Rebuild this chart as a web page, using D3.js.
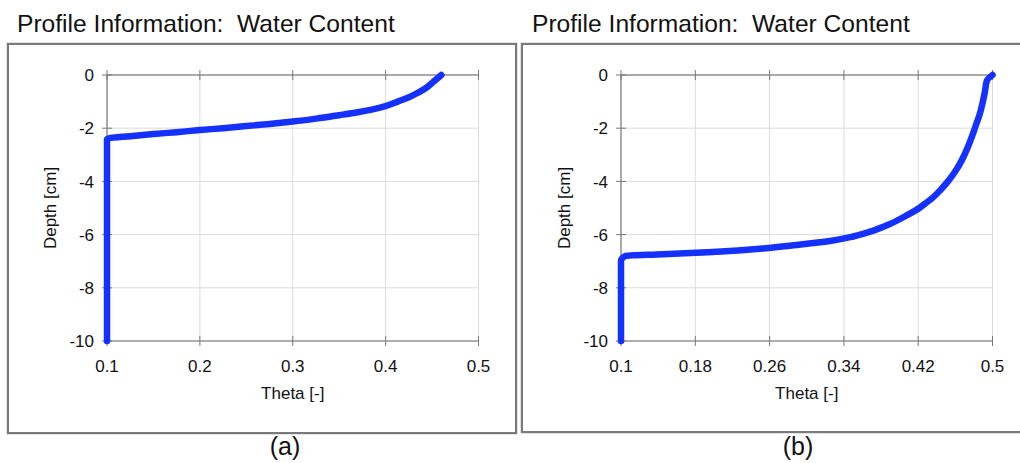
<!DOCTYPE html>
<html><head><meta charset="utf-8">
<script src="https://cdn.jsdelivr.net/npm/d3@7"></script>
<style>body{margin:0;background:#fff;} svg{display:block;font-family:"Liberation Sans",Arial,sans-serif;}</style>
</head><body>
<svg id="c" width="1020" height="463"></svg>
<script>
const titleText = "Profile Information:  Water Content";
const yLabel = "Depth [cm]";
const xLabel = "Theta [-]";
const captions = ["(a)", "(b)"];
const yTicks = [0, -2, -4, -6, -8, -10];
const xTicksA = [0.1, 0.2, 0.3, 0.4, 0.5];
const xTicksB = [0.1, 0.18, 0.26, 0.34, 0.42, 0.5];
const thetaA = [0.460,0.455,0.450,0.443,0.435,0.425,0.413,0.400,0.385,0.370,0.350,0.325,0.300,0.275,0.250,0.225,0.200,0.175,0.150,0.125,0.102,0.100,0.100];
const depthA = [0,-0.15,-0.30,-0.50,-0.66,-0.84,-1.00,-1.17,-1.30,-1.40,-1.51,-1.64,-1.75,-1.84,-1.92,-2.00,-2.07,-2.15,-2.22,-2.30,-2.38,-2.42,-10];
const thetaB = [0.500,0.494,0.492,0.489,0.486,0.482,0.478,0.473,0.467,0.460,0.452,0.444,0.436,0.428,0.422,0.407,0.389,0.371,0.350,0.325,0.289,0.253,0.199,0.145,0.105,0.100,0.100];
const depthB = [0,-0.21,-0.59,-1.10,-1.50,-1.90,-2.30,-2.75,-3.20,-3.62,-4.00,-4.32,-4.60,-4.82,-4.98,-5.29,-5.61,-5.86,-6.07,-6.24,-6.39,-6.52,-6.65,-6.74,-6.80,-6.99,-10];

const svg = d3.select("#c");

const panels = [
  {frame:[8,44,508,389], title:[17,32], plot:[107,478.5,75,341], xd:[0.1,0.5], xt:xTicksA, th:thetaA, dp:depthA, cap:[285,455]},
  {frame:[522,44,510,388], title:[532,32], plot:[621,992.5,75,341], xd:[0.1,0.5], xt:xTicksB, th:thetaB, dp:depthB, cap:[798,455]}
];

panels.forEach((p,i)=>{
  const [fx,fy,fw,fh] = p.frame;
  svg.append("rect").attr("x",fx-1).attr("y",fy-1).attr("width",fw+2).attr("height",fh+2)
     .attr("fill","none").attr("stroke","#c8c8c8").attr("stroke-width",1);
  svg.append("rect").attr("x",fx).attr("y",fy).attr("width",fw).attr("height",fh)
     .attr("fill","none").attr("stroke","#7a7a7a").attr("stroke-width",2);

  svg.append("text").attr("x",p.title[0]).attr("y",p.title[1]).attr("font-size",24.6)
     .attr("fill","#111").style("white-space","pre").text(titleText);

  const [x0,x1,y0,y1] = p.plot;
  const x = d3.scaleLinear().domain(p.xd).range([x0,x1]);
  const y = d3.scaleLinear().domain([0,-10]).range([y0,y1]);
  const g = svg.append("g");

  g.selectAll(".vg").data(p.xt).join("line")
   .attr("x1",d=>x(d)).attr("x2",d=>x(d)).attr("y1",y0).attr("y2",y1)
   .attr("stroke","#dcdcdc").attr("stroke-width",1);
  g.selectAll(".hg").data(yTicks).join("line")
   .attr("x1",x0).attr("x2",x1).attr("y1",d=>y(d)).attr("y2",d=>y(d))
   .attr("stroke","#dcdcdc").attr("stroke-width",1);

  g.append("line").attr("x1",x0).attr("x2",x1).attr("y1",y(0)).attr("y2",y(0)).attr("stroke","#666").attr("stroke-width",1);
  g.append("line").attr("x1",x0).attr("x2",x1).attr("y1",y(-10)).attr("y2",y(-10)).attr("stroke","#999").attr("stroke-width",1.3);
  g.append("line").attr("x1",x0).attr("x2",x0).attr("y1",y0).attr("y2",y1).attr("stroke","#666").attr("stroke-width",1);

  [0,-10].forEach(v=>{
    g.selectAll(null).data(p.xt).join("line")
     .attr("x1",d=>x(d)).attr("x2",d=>x(d)).attr("y1",y(v)-5).attr("y2",y(v)+5)
     .attr("stroke","#777").attr("stroke-width",1);
  });
  g.selectAll(null).data(yTicks).join("line")
   .attr("x1",x0-5).attr("x2",x0+5).attr("y1",d=>y(d)).attr("y2",d=>y(d))
   .attr("stroke","#777").attr("stroke-width",1);

  g.selectAll(null).data(yTicks).join("text")
   .attr("x",x0-13).attr("y",d=>y(d)).attr("dy","0.36em").attr("text-anchor","end")
   .attr("font-size",17).attr("fill","#111").text(d=>String(d));
  g.selectAll(null).data(p.xt).join("text")
   .attr("x",d=>x(d)).attr("y",y1+31).attr("text-anchor","middle")
   .attr("font-size",17).attr("fill","#111").text(d=>String(d));

  g.append("text").attr("x",(x0+x1)/2).attr("y",y1+58).attr("text-anchor","middle")
   .attr("font-size",17).attr("fill","#111").text(xLabel);
  g.append("text").attr("transform",`translate(${x0-51},${(y0+y1)/2}) rotate(-90)`)
   .attr("text-anchor","middle").attr("font-size",17).attr("fill","#111").text(yLabel);

  const pts = p.th.map((t,k)=>[t,p.dp[k]]);
  g.append("path").datum(pts)
   .attr("d",d3.line().x(d=>x(d[0])).y(d=>y(d[1])).curve(d3.curveMonotoneY))
   .attr("fill","none").attr("stroke","#1431ff").attr("stroke-width",6.5)
   .attr("stroke-linejoin","round").attr("stroke-linecap","round");

  svg.append("text").attr("x",p.cap[0]).attr("y",p.cap[1]).attr("text-anchor","middle")
   .attr("font-size",25).attr("fill","#111").text(captions[i]);
});
</script>
</body></html>
